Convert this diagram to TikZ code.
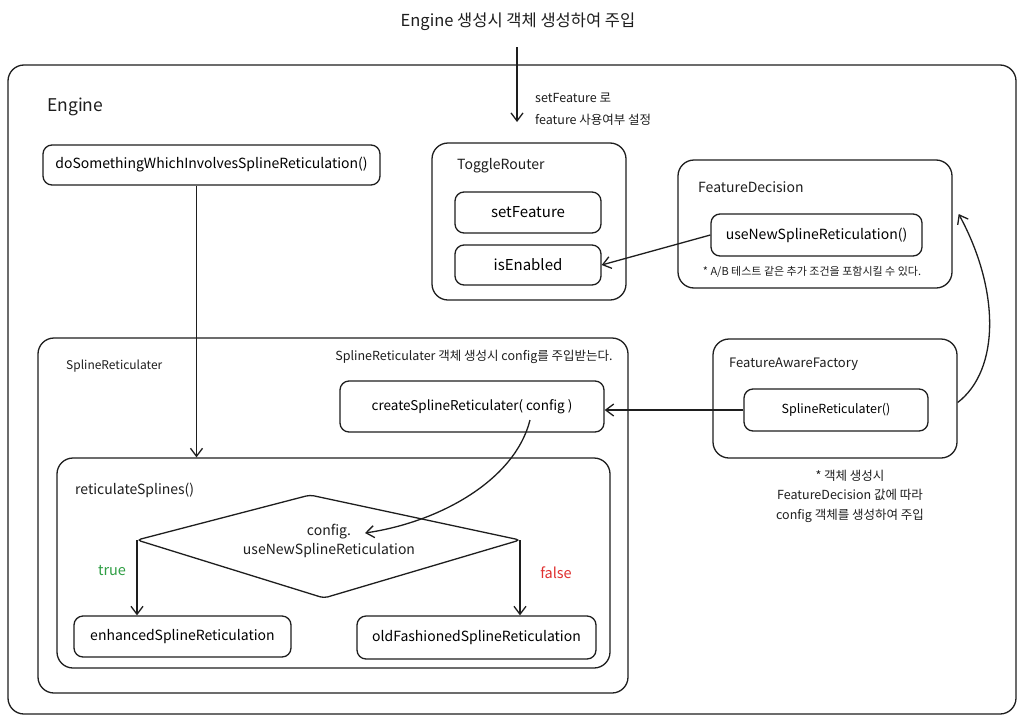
\documentclass[tikz,border=0pt]{standalone}
\usepackage{fontspec}
\setmainfont{Noto Sans CJK KR}
\usetikzlibrary{arrows.meta,shapes.geometric}
\definecolor{ink}{HTML}{1E1E1E}
\definecolor{truegreen}{HTML}{2F9E44}
\definecolor{falsered}{HTML}{E03131}
\newcommand{\fsz}[1]{\fontsize{#1}{#1}\selectfont}
\begin{document}
\begin{tikzpicture}[x=1pt,y=-1pt,
  box/.style={draw=ink,line width=1.3pt,rounded corners=9pt,inner sep=0pt,font=\fsz{14}},
  frame/.style={draw=ink,line width=1.3pt,rounded corners=16pt,inner sep=0pt},
  lbl/.style={anchor=west,inner sep=0pt,text=ink},
  note/.style={inner sep=0pt,text=ink,font=\fsz{11}},
  arr/.style={draw=ink,line width=1.3pt,-{Straight Barb[length=8pt,width=12pt,line width=1.3pt]}}
]
\useasboundingbox (0,0) rectangle (1024,720);
\fill[white] (0,0) rectangle (1024,720);

% title
\node[inner sep=0pt,text=ink,font=\fsz{16.5}] (title) at (518,22) {Engine 생성시 객체 생성하여 주입};
\coordinate (titleend) at (517,122);
\node[lbl,font=\fsz{12.5}] (sf1) at (535,98) {setFeature 로};
\node[lbl,font=\fsz{12.5}] (sf2) at (535,120) {feature 사용여부 설정};

% Engine frame
\node[frame,minimum width=1008pt,minimum height=649pt] (engine) at (512,389.5) {};
\node[lbl,font=\fsz{17.5}] (enginelbl) at (47,107) {Engine};

% doSomething
\node[box,minimum width=337pt,minimum height=40pt,font=\fsz{14}] (dosom) at (211.5,165) {doSomethingWhichInvolvesSplineReticulation()};

% ToggleRouter
\node[frame,minimum width=194pt,minimum height=157pt] (toggle) at (529,221.5) {};
\node[lbl,font=\fsz{14}] (togglelbl) at (457,166) {ToggleRouter};
\node[box,minimum width=146pt,minimum height=41pt,font=\fsz{15}] (setf) at (528,212.5) {setFeature};
\node[box,minimum width=146pt,minimum height=40pt,font=\fsz{15}] (isen) at (528,265) {isEnabled};

% FeatureDecision
\node[frame,minimum width=274pt,minimum height=128pt] (fdec) at (815,224) {};
\node[lbl,font=\fsz{14}] (fdeclbl) at (698,187) {FeatureDecision};
\node[box,minimum width=211pt,minimum height=42pt] (usenew) at (816.5,235) {useNewSplineReticulation()};
\node[note] (fdecnote) at (812,272) {* A/B 테스트 같은 추가 조건을 포함시킬 수 있다.};

% FeatureAwareFactory
\node[frame,minimum width=244pt,minimum height=119pt] (faf) at (835,398.5) {};
\node[lbl,font=\fsz{13}] (faflbl) at (729,364) {FeatureAwareFactory};
\node[box,minimum width=184pt,minimum height=42pt,font=\fsz{12.5}] (srctor) at (836,410) {SplineReticulater()};

\node[note,font=\fsz{12.5},align=center] (fafnote) at (850,496) {* 객체 생성시\\[7pt]FeatureDecision 값에 따라\\[7pt]config 객체를 생성하여 주입};

% SplineReticulater
\node[frame,minimum width=590pt,minimum height=355pt] (srbox) at (333,515.5) {};
\node[lbl,font=\fsz{12}] (srlbl) at (66,366) {SplineReticulater};
\node[note,font=\fsz{12.5}] (srnote) at (474,357) {SplineReticulater 객체 생성시 config를 주입받는다.};
\node[box,minimum width=264pt,minimum height=51pt,font=\fsz{13.5}] (create) at (472,406.5) {createSplineReticulater( config )};
\coordinate (cfgword) at (530,420);

% reticulateSplines
\node[frame,minimum width=553pt,minimum height=210pt] (retic) at (333.5,563) {};
\node[lbl,font=\fsz{14}] (reticlbl) at (75,490) {reticulateSplines()};

% diamond
\coordinate (dl) at (137,540);
\coordinate (dt) at (310,495);
\coordinate (dr) at (520,540);
\coordinate (db) at (324,598);
\draw[draw=ink,line width=1.3pt,rounded corners=4pt] (dl) -- (dt) -- (dr) -- (db) -- cycle;
\node[inner sep=0pt,text=ink,align=center,font=\fsz{14}] (cond) at (329,541) {config.\\[3pt]useNewSplineReticulation};
\coordinate (cfgin) at (365,533);

\node[box,minimum width=217pt,minimum height=41pt,font=\fsz{14}] (enh) at (182.5,636.5) {enhancedSplineReticulation};
\node[box,minimum width=239pt,minimum height=43pt,font=\fsz{14}] (old) at (476.5,637.5) {oldFashionedSplineReticulation};

\node[inner sep=0pt,text=truegreen,font=\fsz{14.5}] (truelbl) at (112,571) {true};
\node[inner sep=0pt,text=falsered,font=\fsz{14.5}] (falselbl) at (556,573) {false};

% connectors
\draw[arr] (title.south) ++(-1,16) -- (titleend);
\draw[arr] ([xshift=-15pt]dosom.south) -- ([xshift=-15pt]dosom.south |- retic.north);
\draw[arr] (usenew.west) -- (isen.east);
\draw[arr] (srctor.west) -- (srctor.west -| create.east);
\draw[arr] ([yshift=-4pt]faf.east) .. controls (1000,370) and (1000,290) .. ([xshift=6pt,yshift=10pt]fdec.east);
\draw[arr] (cfgword) .. controls (515,480) and (440,522) .. (cfgin);
\draw[arr] (dl) -- (dl |- enh.north);
\draw[arr] (dr) -- (dr |- old.north);
\end{tikzpicture}
\end{document}
